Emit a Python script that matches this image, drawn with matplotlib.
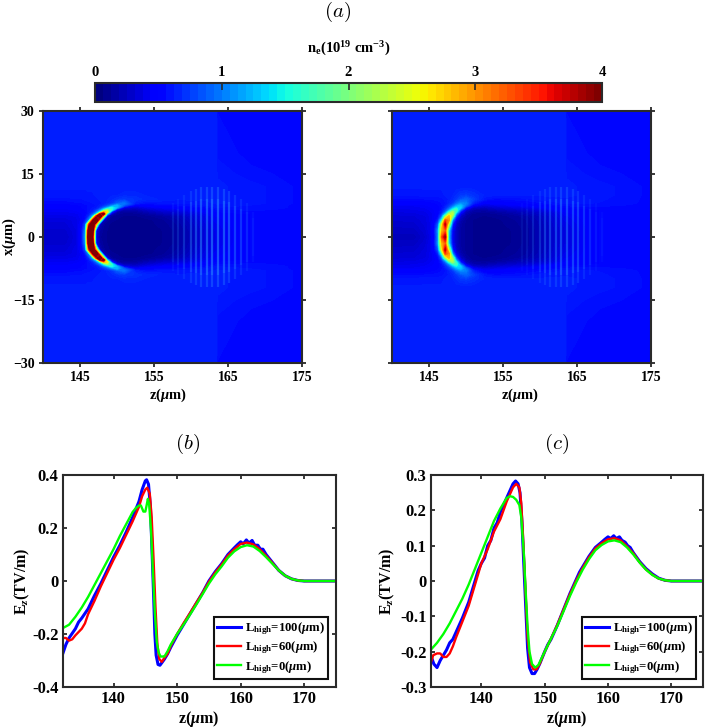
import numpy as np
import matplotlib
matplotlib.use('Agg')
import matplotlib.pyplot as plt
from matplotlib.cm import ScalarMappable
from matplotlib.colors import Normalize

plt.rcParams['font.family'] = 'Liberation Serif'
plt.rcParams['font.weight'] = 'bold'
plt.rcParams['mathtext.fontset'] = 'custom'
plt.rcParams['mathtext.rm'] = 'Liberation Serif:bold'
plt.rcParams['mathtext.it'] = 'Liberation Serif:italic:bold'
plt.rcParams['mathtext.bf'] = 'Liberation Serif:bold'

DARK = '#2a2a2a'

# density maps, 10^19 cm^-3, rows are x >= 0 and get mirrored
map_z = [140, 143, 144.5, 145.2, 145.7, 146.2, 146.7, 147.2, 147.7, 148.2, 148.7, 149.3,
         150, 151, 152.5, 154, 156, 158, 160, 162, 163.4, 163.6, 168, 175]
map_x = [0, 1.5, 3, 4, 5, 5.5, 6, 6.5, 7, 7.5, 8, 9, 10, 12, 15, 20, 30]

outer_rows = [
    [.6, .6, .6, .6, .6, .6, .6, .6, .6, .6, .6, .6, .6, .6, .6, .6, .6, .6, .6, .6, .6, .6, .58, .52],
    [.6, .6, .6, .6, .6, .6, .6, .6, .6, .6, .6, .6, .6, .6, .6, .6, .6, .6, .6, .6, .6, .59, .54, .52],
    [.6, .6, .6, .6, .6, .6, .6, .6, .6, .6, .6, .6, .6, .6, .6, .6, .6, .6, .6, .6, .6, .55, .52, .52],
    [.6, .6, .6, .6, .6, .6, .6, .6, .6, .6, .6, .6, .6, .6, .6, .6, .6, .6, .6, .6, .6, .53, .52, .52],
]

left_rows = [
    [.25, .25, .33, .5, 1.1, 4.8, 4.0, .3, .1, .07, .06, .05, .05, .05, .05, .05, .06, .1, .2, .32, .38, .38, .5, .52],
    [.27, .27, .34, .5, 1.0, 4.6, 4.4, .4, .12, .08, .06, .05, .05, .05, .05, .05, .06, .1, .2, .32, .38, .38, .5, .52],
    [.3, .3, .36, .45, .75, 3.4, 4.8, 2.6, .2, .1, .07, .05, .05, .05, .05, .05, .07, .12, .22, .34, .4, .4, .5, .52],
    [.32, .32, .36, .42, .55, 1.0, 3.6, 4.8, 2.4, .2, .1, .07, .06, .05, .05, .05, .08, .14, .24, .36, .42, .42, .5, .52],
    [.35, .36, .38, .42, .5, .65, 1.1, 3.4, 4.8, 2.4, .25, .1, .07, .06, .06, .08, .12, .18, .28, .38, .44, .44, .5, .52],
    [.38, .38, .4, .42, .48, .58, .75, 1.3, 3.6, 4.2, 1.2, .2, .1, .08, .08, .12, .18, .24, .32, .4, .46, .46, .5, .52],
    [.4, .4, .42, .45, .48, .55, .62, .85, 1.4, 2.8, 2.6, .6, .15, .1, .12, .18, .25, .3, .36, .44, .5, .5, .52, .52],
    [.42, .42, .45, .48, .5, .54, .58, .66, .9, 1.4, 2.0, 1.6, .4, .18, .18, .26, .34, .38, .42, .48, .52, .52, .54, .52],
    [.45, .45, .48, .5, .52, .54, .56, .58, .66, .85, 1.1, 1.5, 1.2, .35, .28, .36, .42, .46, .48, .52, .56, .56, .56, .52],
    [.47, .47, .49, .5, .52, .53, .54, .56, .6, .66, .76, .95, 1.2, .8, .42, .46, .5, .52, .54, .56, .58, .58, .56, .52],
    [.5, .5, .52, .52, .54, .55, .56, .57, .58, .6, .64, .7, .85, .95, .6, .54, .56, .56, .57, .58, .6, .6, .58, .52],
    [.55, .55, .56, .56, .57, .58, .58, .58, .6, .6, .62, .64, .68, .72, .68, .64, .62, .6, .6, .6, .6, .6, .58, .52],
    [.58, .58, .58, .58, .58, .59, .59, .6, .6, .6, .6, .62, .62, .64, .64, .62, .62, .6, .6, .6, .6, .6, .58, .52],
] + outer_rows

right_rows = [
    [.2, .2, .28, .35, .5, 1.0, 3.2, 3.9, 1.2, .4, .2, .12, .08, .06, .05, .05, .06, .1, .18, .28, .34, .34, .5, .52],
    [.23, .23, .3, .38, .52, 1.05, 2.8, 3.2, 1.3, .42, .2, .12, .08, .06, .05, .05, .06, .1, .18, .28, .34, .34, .5, .52],
    [.26, .27, .32, .38, .48, .8, 2.4, 3.8, 2.2, .6, .24, .13, .08, .06, .05, .05, .07, .11, .19, .29, .36, .36, .5, .52],
    [.28, .29, .33, .38, .44, .6, 1.4, 3.3, 3.0, 1.0, .35, .16, .09, .06, .05, .05, .08, .12, .2, .3, .38, .38, .5, .52],
    [.3, .31, .34, .38, .42, .5, .8, 1.9, 2.8, 2.0, .7, .25, .12, .07, .06, .07, .1, .14, .22, .32, .4, .4, .5, .52],
    [.32, .33, .36, .39, .42, .48, .65, 1.2, 2.2, 2.3, 1.0, .35, .15, .08, .07, .09, .13, .18, .25, .34, .42, .42, .5, .52],
    [.34, .35, .37, .4, .43, .47, .58, .85, 1.5, 2.1, 1.5, .55, .2, .12, .1, .13, .17, .22, .28, .36, .44, .44, .5, .52],
    [.36, .37, .39, .41, .44, .47, .54, .7, 1.0, 1.5, 1.7, .9, .32, .16, .15, .19, .24, .28, .34, .42, .47, .47, .5, .52],
    [.38, .39, .41, .43, .45, .48, .52, .62, .8, 1.1, 1.4, 1.3, .6, .26, .22, .27, .32, .36, .42, .48, .5, .5, .52, .52],
    [.41, .41, .43, .45, .47, .49, .52, .57, .68, .85, 1.1, 1.25, .9, .42, .32, .36, .4, .44, .47, .5, .54, .54, .54, .52],
    [.45, .45, .46, .48, .49, .51, .53, .56, .62, .7, .88, 1.05, 1.0, .6, .42, .44, .47, .49, .52, .55, .57, .57, .56, .52],
    [.52, .52, .53, .53, .54, .54, .55, .57, .6, .64, .7, .8, .88, .74, .57, .52, .54, .55, .57, .58, .59, .59, .57, .52],
    [.57, .57, .58, .58, .58, .58, .58, .6, .6, .62, .66, .7, .72, .68, .62, .6, .6, .6, .6, .6, .6, .6, .58, .52],
] + outer_rows

# ripple stripes behind the bubble
stripe_z = [157.5, 158.3, 159.1, 160, 160.7, 161.4, 162.1, 162.8, 163.6, 164.4, 165.2, 166, 166.8, 167.6, 168.4]
stripe_half = [8, 9, 10, 11, 11.5, 12, 12, 12, 12, 11.5, 11, 10, 9, 8, 6]
left_alpha = [.1, .12, .17, .22, .27, .31, .34, .36, .36, .34, .3, .24, .19, .13, .08]
right_alpha = [.06, .08, .12, .17, .22, .24, .26, .29, .29, .26, .24, .19, .13, .08, .06]

# on-axis field, panel (b)
b_blue_z = [132, 132.5, 133, 134, 134.5, 135, 136, 137, 138, 139, 140, 141, 142, 143, 144, 144.5, 145, 145.2, 145.5,
            145.8, 146, 146.3, 146.5, 146.7, 147, 147.3, 147.7, 148, 148.5, 149, 150, 151, 152, 153, 154, 155, 156,
            157, 158, 159, 159.5, 160, 160.4, 160.9, 161.3, 161.8, 162.2, 162.7, 163.1, 163.5, 164, 165, 166, 167,
            168, 169, 170, 175]
b_blue_e = [-.275, -.24, -.215, -.18, -.155, -.14, -.105, -.055, -.01, .04, .09, .135, .185, .24, .30, .345, .378,
            .382, .365, .28, .15, -.05, -.2, -.28, -.315, -.318, -.305, -.295, -.275, -.25, -.205, -.165, -.125,
            -.085, -.045, 0, .035, .065, .10, .125, .137, .148, .14, .155, .143, .153, .135, .135, .12, .12, .10,
            .07, .04, .02, .008, .002, 0, 0]
b_red_z = [132, 132.5, 133, 133.5, 134, 135, 135.5, 136, 137, 138, 139, 140, 141, 142, 143, 144, 144.5, 145, 145.3,
           145.7, 146, 146.3, 146.6, 146.9, 147.2, 147.6, 148, 148.5, 149, 150, 151, 152, 153, 154, 155, 156, 157,
           158, 159, 160, 161, 162, 163, 164, 165, 166, 167, 168, 169, 170, 175]
b_red_e = [-.215, -.215, -.225, -.22, -.205, -.18, -.16, -.125, -.075, -.02, .03, .08, .125, .175, .225, .28, .32,
           .345, .352, .33, .24, .08, -.1, -.24, -.295, -.305, -.29, -.275, -.245, -.2, -.16, -.122, -.083, -.045,
           -.003, .032, .062, .096, .12, .14, .145, .138, .12, .095, .068, .04, .02, .008, .002, 0, 0]
b_green_z = [132, 133, 134, 135, 136, 137, 138, 139, 140, 141, 142, 143, 143.5, 144, 144.3, 144.7, 145, 145.2, 145.4,
             145.6, 145.9, 146.2, 146.5, 146.8, 147.1, 147.4, 147.8, 148, 148.5, 149, 150, 151, 152, 153, 154, 155,
             156, 157, 158, 159, 160, 161, 162, 163, 164, 165, 166, 167, 168, 169, 170, 175]
b_green_e = [-.178, -.165, -.135, -.10, -.06, -.015, .03, .075, .12, .17, .215, .26, .275, .285, .285, .262, .262,
             .285, .31, .29, .19, .03, -.12, -.23, -.27, -.285, -.285, -.285, -.265, -.24, -.2, -.165, -.128, -.09,
             -.05, -.01, .025, .055, .088, .112, .128, .135, .13, .113, .09, .065, .04, .02, .008, .002, 0, 0]

# on-axis field, panel (c)
c_blue_z = [132, 132.5, 133, 133.5, 134, 134.5, 135, 135.5, 136, 137, 138, 138.5, 139, 139.5, 140, 140.5, 141, 141.5,
            142, 142.5, 143, 143.5, 144, 144.5, 145, 145.4, 145.8, 146.1, 146.4, 146.7, 147, 147.3, 147.6, 148, 148.4,
            148.8, 149.2, 150, 150.5, 151, 152, 153, 154, 155, 155.5, 156, 157, 158, 159, 159.5, 160, 160.4, 160.9,
            161.3, 161.8, 162.2, 162.7, 163.1, 163.5, 164, 165, 166, 167, 168, 169, 170, 175]
c_blue_e = [-.21, -.235, -.245, -.225, -.21, -.195, -.175, -.165, -.145, -.105, -.06, -.03, 0, .03, .05, .065, .10,
            .115, .15, .165, .195, .215, .235, .255, .275, .283, .275, .25, .17, .05, -.07, -.19, -.245, -.262, -.262,
            -.25, -.235, -.2, -.18, -.165, -.125, -.08, -.035, .005, .025, .04, .07, .095, .11, .118, .125, .12, .128,
            .12, .125, .115, .11, .10, .095, .08, .055, .035, .02, .008, .002, 0, 0]
c_red_z = [132, 132.4, 133, 133.5, 134, 134.5, 135, 135.5, 136, 137, 138, 138.5, 139, 139.5, 140, 141, 142, 143, 144,
           145, 145.5, 146, 146.3, 146.6, 147, 147.3, 147.7, 148.2, 148.7, 149.2, 150, 151, 152, 153, 154, 155, 156,
           157, 158, 159, 160, 161, 162, 163, 164, 165, 166, 167, 168, 169, 170, 175]
c_red_e = [-.232, -.21, -.205, -.205, -.215, -.215, -.205, -.185, -.16, -.115, -.07, -.04, -.01, .02, .05, .09, .14,
           .175, .225, .265, .275, .265, .22, .12, -.04, -.16, -.23, -.25, -.25, -.235, -.2, -.163, -.124, -.08,
           -.037, .002, .037, .067, .092, .107, .118, .121, .115, .098, .078, .053, .033, .018, .007, .002, 0, 0]
c_green_z = [132, 133, 134, 135, 136, 137, 138, 139, 140, 141, 142, 143, 144, 144.5, 145, 145.5, 146, 146.3, 146.7, 147,
             147.3, 147.6, 148, 148.5, 149, 150, 151, 152, 153, 154, 155, 156, 157, 158, 159, 160, 161, 162, 163, 164,
             165, 166, 167, 168, 169, 170, 175]
c_green_e = [-.195, -.175, -.15, -.12, -.085, -.05, -.01, .035, .08, .125, .17, .205, .235, .24, .238, .23, .215, .18,
             .08, -.03, -.13, -.2, -.235, -.245, -.238, -.2, -.163, -.127, -.085, -.042, -.003, .032, .062, .087, .102,
             .112, .115, .11, .095, .075, .052, .032, .017, .007, .002, 0, 0]

legend_labels = [r'L$_{\mathrm{high}}$=100($\mu$m)', r'L$_{\mathrm{high}}$=60($\mu$m)', r'L$_{\mathrm{high}}$=0($\mu$m)']

W, H = 708, 728
fig = plt.figure(figsize=(W / 100, H / 100), dpi=100)


def axes_px(left, right, top, bottom):
    return fig.add_axes([left / W, 1 - bottom / H, (right - left) / W, (bottom - top) / H])


def text_px(x, y, s, **kw):
    fig.text(x / W, 1 - y / H, s, ha='center', va='center', **kw)


def box(ax, size, direction, length=3):
    for s in ax.spines.values():
        s.set_linewidth(1.5)
        s.set_color(DARK)
    ax.tick_params(direction=direction, top=True, right=True, length=length, width=1.3, color=DARK,
                   labelsize=size, pad=3)


levels = np.linspace(0, 4, 129)


def density_panel(left, right, rows, alphas):
    ax = axes_px(left, right, 111, 363)
    half = np.array(rows)
    x = np.array(map_x)
    full = np.vstack([half[:0:-1], half])
    xs = np.concatenate([-x[:0:-1], x])
    ax.contourf(map_z, xs, full, levels=levels, cmap='jet', extend='max')
    # each stripe is drawn twice so it thins out towards its ends
    for z, h, a in zip(stripe_z, stripe_half, alphas):
        ax.vlines(z, -h, h, color='#2a8cff', alpha=a, lw=1.6)
        ax.vlines(z, -0.75 * h, 0.75 * h, color='#2a8cff', alpha=a, lw=1.6)
    ax.set_xlim(140, 175)
    ax.set_ylim(-30, 30)
    ax.set_xticks([145, 155, 165, 175])
    ax.set_yticks([-30, -15, 0, 15, 30])
    box(ax, 10, 'out')
    return ax


ax1 = density_panel(43, 302, left_rows, left_alpha)
ax2 = density_panel(392, 651, right_rows, right_alpha)
ax2.set_yticklabels([])
text_px(168, 395, r'z($\mu$m)', fontsize=10.5)
text_px(520, 395, r'z($\mu$m)', fontsize=10.5)
text_px(9, 237, r'x($\mu$m)', rotation=90, fontsize=10.5)

# shared colour scale
cax = axes_px(95, 602, 83, 102)
cb = fig.colorbar(ScalarMappable(Normalize(0, 4), plt.get_cmap('jet', 64)), cax=cax, orientation='horizontal',
                  ticklocation='top')
cb.set_ticks([0, 1, 2, 3, 4])
cb.ax.tick_params(direction='in', length=5, width=1.2, color=DARK, labelsize=10.5, pad=3)
cb.outline.set_linewidth(1.5)
cb.outline.set_edgecolor(DARK)
text_px(349, 49, r'n$_{\mathrm{e}}$(10$^{19}$ cm$^{-3}$)', fontsize=10.5)


def field_panel(left, right, curves, ymax, yticks, ylabels, anchor):
    ax = axes_px(left, right, 475, 687)
    for (z, e), col, lw, lab in zip(curves, ['#0000ff', '#ff0000', '#00ff00'], [2.2, 1.7, 1.7], legend_labels):
        ax.plot(z, e, color=col, lw=lw, label=lab)
    ax.set_xlim(132, 175)
    ax.set_ylim(-ymax, ymax)
    ax.set_xticks([140, 150, 160, 170])
    ax.set_yticks(yticks)
    ax.set_yticklabels(ylabels)
    box(ax, 12, 'in')
    ax.legend(loc='lower right', bbox_to_anchor=(anchor, 0.038), borderaxespad=0, fontsize=9.2, fancybox=False,
              framealpha=1, edgecolor='#111111', handlelength=1.9, labelspacing=0.2, handletextpad=0.3,
              borderpad=0.25).get_frame().set_linewidth(1.5)
    return ax


field_panel(62.7, 336, [(b_blue_z, b_blue_e), (b_red_z, b_red_e), (b_green_z, b_green_e)], 0.4,
            [-.4, -.2, 0, .2, .4], ['-0.4', '-0.2', '0', '0.2', '0.4'], 0.971)
field_panel(430.7, 703, [(c_blue_z, c_blue_e), (c_red_z, c_red_e), (c_green_z, c_green_e)], 0.3,
            [-.3, -.2, -.1, 0, .1, .2, .3], ['-0.3', '-0.2', '-0.1', '0', '0.1', '0.2', '0.3'], 0.974)
for xc in (199, 567):
    text_px(xc, 719, r'z($\mu$m)', fontsize=11.5)
for xc in (22, 387):
    text_px(xc, 581, r'E$_{z}$(TV/m)', rotation=90, fontsize=11.5)

# panel letters in computer modern
for xc, yc, s in [(338, 12, '$(a)$'), (188, 444, '$(b)$'), (557, 444, '$(c)$')]:
    text_px(xc, yc, s, fontsize=15, math_fontfamily='cm', fontweight='normal')

fig.savefig('out.png', dpi=100)
